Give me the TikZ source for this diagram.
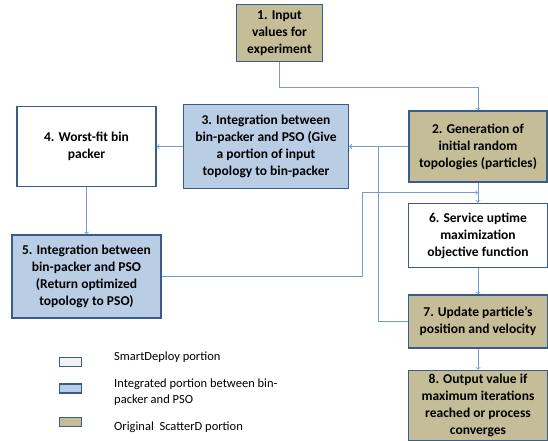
\documentclass[tikz,border=0pt]{standalone}
\usepackage{xcolor}
\usepackage{fontspec}
\setmainfont{Carlito}
\usepackage{tikz}
\usetikzlibrary{arrows, positioning, calc}
\definecolor{tanfill}{RGB}{196,189,151}
\definecolor{bluefill}{RGB}{185,205,229}
\definecolor{edgeblue}{RGB}{56,93,138}
\definecolor{linkblue}{RGB}{120,155,205}
\tikzstyle{smartbox} = [rectangle, text centered, align=center, draw=edgeblue, line width=1.5pt, fill=white, inner sep=1pt, font=\bfseries\fontsize{13.5}{17}\selectfont]
\tikzstyle{integbox} = [smartbox, fill=bluefill]
\tikzstyle{origbox} = [smartbox, fill=tanfill]
\tikzstyle{legendbox} = [rectangle, draw=edgeblue, line width=1.5pt, minimum width=22pt, minimum height=9pt, inner sep=0pt]
\tikzstyle{legendtext} = [anchor=west, align=left, inner sep=0pt, font=\fontsize{12.5}{16}\selectfont]
\tikzstyle{arrow} = [draw=linkblue, line width=0.8pt, ->, >=to]

\begin{document}
\begin{tikzpicture}[x=1pt, y=1pt]
\useasboundingbox (0,0) rectangle (548,-440);

% Input
\node (input) [origbox, minimum width=86pt, minimum height=57pt] at (279.5,-33) {1. Input\\values for\\experiment};

% PSO side
\node (gen) [origbox, minimum width=138pt, minimum height=71pt, below right=48pt and 85pt of input] {2. Generation of\\initial random\\topologies (particles)};
\node (uptime) [smartbox, minimum width=139pt, minimum height=64pt, below=20pt of gen] {6. Service uptime\\maximization\\objective function};
\node (update) [origbox, minimum width=139pt, minimum height=53pt, below=26pt of uptime] {7. Update particle’s\\position and velocity};
\node (output) [origbox, minimum width=139pt, minimum height=70pt, below=21pt of update] {8. Output value if\\maximum iterations\\reached or process\\converges};

% Bin-packer side
\node (give) [integbox, minimum width=165pt, minimum height=84pt, left=59pt of gen] {3. Integration between\\bin-packer and PSO (Give\\a portion of input\\topology to bin-packer};
\node (packer) [smartbox, minimum width=139pt, minimum height=80pt, left=26pt of give] {4. Worst-fit bin\\packer};
\node (return) [integbox, minimum width=149pt, minimum height=83pt, below=47pt of packer] {5. Integration between\\bin-packer and PSO\\(Return optimized\\topology to PSO)};

% Legend
\node (lsmart) [legendbox, fill=black!5] at (70.5,-362) {};
\node (linteg) [legendbox, fill=bluefill] at (70.5,-388.5) {};
\node (lorig) [legendbox, fill=tanfill] at (70.5,-422) {};
\node (tsmart) [legendtext] at (114,-357) {SmartDeploy portion};
\node (tinteg) [legendtext] at (114,-392) {Integrated portion between bin-\\packer and PSO};
\node (torig) [legendtext] at (114,-427) {Original\ \ ScatterD portion};

% Arrows
\coordinate (merge) at ($(uptime.north)+(0,10)$);
\draw [arrow] (input.south) -- ++(0,-25) -| (gen.north);
\draw [arrow] (gen.west) -- (give.east);
\draw [arrow] (give.west) -- (packer.east);
\draw [arrow] (packer) -- (return);
\draw [arrow] (return.east) -- ++(201,0) |- (merge);
\draw [arrow] (gen) -- (uptime);
\draw [arrow] (uptime) -- (update);
\draw [arrow] (update) -- (output);
\draw [arrow] (update.west) -- ++(-29,0) |- (give.east);

\end{tikzpicture}
\end{document}
